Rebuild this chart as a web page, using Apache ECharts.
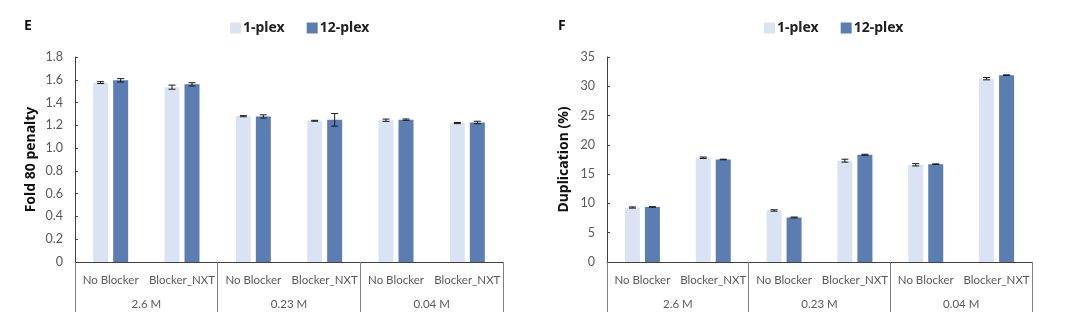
<!DOCTYPE html>
<html>
<head>
<meta charset="utf-8">
<script src="https://cdn.jsdelivr.net/npm/echarts@6/dist/echarts.min.js"></script>
<style>html,body{margin:0;padding:0;background:#fff}#c{width:1080px;height:325px}</style>
</head>
<body>
<div id="c"></div>
<script>
const categories = ['No Blocker','Blocker_NXT','No Blocker','Blocker_NXT','No Blocker','Blocker_NXT'];
const groups = ['2.6 M','0.23 M','0.04 M'];
const seriesNames = ['1-plex','12-plex'];

const foldOne = [1.575, 1.535, 1.28, 1.24, 1.245, 1.22];
const foldTwelve = [1.595, 1.56, 1.278, 1.248, 1.25, 1.225];
const foldOneErr = [0.008, 0.018, 0.005, 0.004, 0.01, 0.005];
const foldTwelveErr = [0.015, 0.014, 0.014, 0.055, 0.006, 0.011];

const dupOne = [9.3, 17.8, 8.8, 17.3, 16.6, 31.3];
const dupTwelve = [9.4, 17.5, 7.6, 18.3, 16.7, 31.9];
const dupOneErr = [0.1, 0.12, 0.12, 0.25, 0.2, 0.2];
const dupTwelveErr = [0.05, 0.05, 0.08, 0.1, 0.05, 0.05];

const foldTicks = {min: 0, max: 1.8, interval: 0.2};
const dupTicks = {min: 0, max: 35, interval: 5};

const C1 = '#dae3f3', C2 = '#5b7db1';
const FONT = '"Noto Sans", sans-serif';
const LFONT = 'Lato, "Noto Sans", sans-serif';
const BW = 15, GAP = 5;

function errSeries(xi, yi, vals, errs, sign) {
  return {
    type: 'custom', xAxisIndex: xi, yAxisIndex: yi, silent: true, z: 10,
    data: vals.map((v, i) => [i, v, errs[i]]),
    encode: {x: 0, y: 1},
    renderItem: function (params, api) {
      const i = api.value(0), v = api.value(1), e = api.value(2);
      const off = sign * (BW + GAP) / 2;
      const top = api.coord([i, v + e]);
      const bot = api.coord([i, v - e]);
      const x = top[0] + off;
      const cap = 3.5;
      const st = {stroke: '#1a1a1a', lineWidth: 1};
      return {type: 'group', children: [
        {type: 'line', shape: {x1: x, y1: top[1], x2: x, y2: bot[1]}, style: st},
        {type: 'line', shape: {x1: x - cap, y1: top[1], x2: x + cap, y2: top[1]}, style: st},
        {type: 'line', shape: {x1: x - cap, y1: bot[1], x2: x + cap, y2: bot[1]}, style: st}
      ]};
    }
  };
}

function catAxis(gi) {
  return {
    type: 'category', gridIndex: gi, data: categories, position: 'bottom',
    axisLine: {show: true, lineStyle: {color: '#404040', width: 1}},
    axisTick: {show: false},
    axisLabel: {color: '#595959', fontSize: 11.5, fontFamily: LFONT, margin: 12, interval: 0}
  };
}
function groupAxis(gi) {
  return {
    type: 'category', gridIndex: gi, data: groups, position: 'bottom',
    axisLine: {show: false},
    axisTick: {show: true, length: 50, inside: false, lineStyle: {color: '#7f7f7f', width: 1}},
    axisLabel: {color: '#595959', fontSize: 11.5, fontFamily: LFONT, margin: 36, interval: 0}
  };
}
function valAxis(gi, t, name, gap, fmt) {
  return {
    type: 'value', gridIndex: gi, min: t.min, max: t.max, interval: t.interval,
    name: name, nameLocation: 'middle', nameRotate: 90, nameGap: gap,
    nameTextStyle: {color: '#111', fontSize: 14, fontWeight: 'bold', fontFamily: FONT},
    axisLine: {show: true, lineStyle: {color: '#404040', width: 1}},
    axisTick: {show: true, inside: true, length: 3, lineStyle: {color: '#404040'}},
    splitLine: {show: false},
    axisLabel: {color: '#595959', fontSize: 12.5, fontFamily: LFONT, margin: 12, formatter: fmt}
  };
}
function bar(name, xi, yi, data, color) {
  return {name: name, type: 'bar', xAxisIndex: xi, yAxisIndex: yi, data: data,
    barWidth: BW, barGap: (GAP / BW * 100) + '%', itemStyle: {color: color}};
}
function legend(left) {
  return {left: left, top: 16, data: seriesNames, icon: 'rect', itemWidth: 11, itemHeight: 11, itemGap: 22,
    textStyle: {color: '#222', fontSize: 14, fontWeight: 'bold', fontFamily: FONT, padding: [0, 0, 0, -3]}};
}

const chart = echarts.init(document.getElementById('c'), null, {renderer: 'canvas'});
chart.setOption({
  animation: false,
  title: [
    {text: 'E', left: 19, top: 14, textStyle: {fontSize: 14, fontWeight: 'bold', color: '#111', fontFamily: FONT}},
    {text: 'F', left: 553, top: 14, textStyle: {fontSize: 14, fontWeight: 'bold', color: '#111', fontFamily: FONT}}
  ],
  legend: [legend(225), legend(759)],
  grid: [
    {left: 75, right: 577, top: 57, bottom: 63},
    {left: 607, right: 48, top: 57, bottom: 63}
  ],
  xAxis: [catAxis(0), groupAxis(0), catAxis(1), groupAxis(1)],
  yAxis: [
    valAxis(0, foldTicks, 'Fold 80 penalty', 37, v => v === 0 ? '0' : v.toFixed(1)),
    valAxis(1, dupTicks, 'Duplication (%)', 36, v => String(v))
  ],
  series: [
    bar(seriesNames[0], 0, 0, foldOne, C1),
    bar(seriesNames[1], 0, 0, foldTwelve, C2),
    errSeries(0, 0, foldOne, foldOneErr, -1),
    errSeries(0, 0, foldTwelve, foldTwelveErr, 1),
    bar(seriesNames[0], 2, 1, dupOne, C1),
    bar(seriesNames[1], 2, 1, dupTwelve, C2),
    errSeries(2, 1, dupOne, dupOneErr, -1),
    errSeries(2, 1, dupTwelve, dupTwelveErr, 1)
  ]
});
</script>
</body>
</html>
